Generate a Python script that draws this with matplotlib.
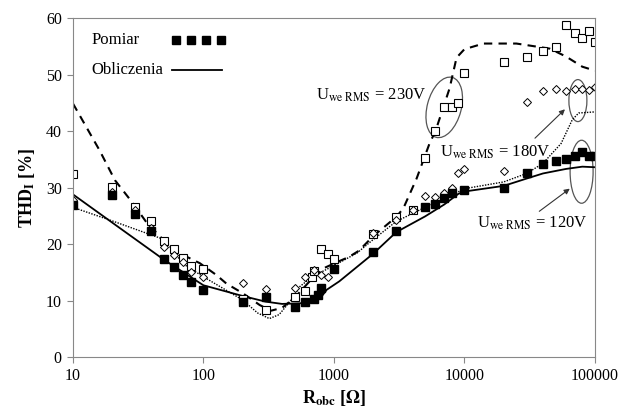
import numpy as np
import matplotlib
matplotlib.use('Agg')
import matplotlib.pyplot as plt
from matplotlib.patches import Ellipse
from matplotlib import transforms

plt.rcParams['font.family'] = ['Liberation Serif', 'DejaVu Serif']
plt.rcParams['mathtext.fontset'] = 'stix'

# measured THD_I [%] vs R_obc [Ohm]
r_120 = [10, 20, 30, 40, 50, 60, 70, 80, 100, 200, 300, 500, 600, 700, 750, 800,
         1000, 2000, 3000, 5000, 6000, 7000, 8000, 10000, 20000, 30000, 40000,
         50000, 60000, 70000, 80000, 90000, 100000]
thd_120 = [26.9, 28.7, 25.3, 22.3, 17.3, 16.0, 14.6, 13.2, 11.8, 9.7, 10.7, 8.9, 9.8,
           10.2, 11.0, 12.2, 15.5, 18.6, 22.3, 26.5, 27.1, 28.1, 29.0, 29.6, 30.0,
           32.6, 34.1, 34.7, 35.0, 35.5, 36.3, 35.5, 35.5]

r_180 = [10, 20, 30, 40, 50, 60, 70, 80, 100, 200, 300, 500, 600, 700, 800, 900, 1000,
         2000, 3000, 4000, 5000, 6000, 7000, 8000, 9000, 10000, 20000, 30000, 40000,
         50000, 60000, 70000, 80000, 90000, 100000]
thd_180 = [27.8, 29.3, 26.0, 22.8, 19.5, 18.1, 16.9, 15.1, 14.1, 13.1, 12.0, 12.2, 14.1,
           15.4, 14.6, 14.2, 15.8, 21.9, 24.2, 26.0, 28.5, 28.3, 29.1, 30.0, 32.6, 33.2,
           33.0, 45.1, 47.1, 47.4, 47.1, 47.4, 47.4, 47.3, 47.8]

r_230 = [10, 20, 30, 40, 50, 60, 70, 80, 100, 200, 300, 500, 600, 680, 700, 800, 900,
         1000, 2000, 3000, 4000, 5000, 6000, 7000, 8000, 9000, 10000, 20000, 30000,
         40000, 50000, 60000, 70000, 80000, 90000, 100000]
thd_230 = [32.4, 30.1, 26.6, 24.1, 20.6, 19.2, 17.5, 16.2, 15.6, 10.3, 8.4, 10.6, 11.6,
           14.1, 15.3, 19.2, 18.3, 17.4, 21.7, 24.7, 26.1, 35.2, 40.1, 44.2, 44.2, 45.0,
           50.2, 52.2, 53.2, 54.2, 54.9, 58.8, 57.4, 56.4, 57.8, 55.7]

# calculated curves
rc_120 = [10, 20, 50, 100, 200, 300, 400, 550, 780, 880, 1100, 2000, 3000, 5000, 7000,
          9000, 10000, 20000, 30000, 40000, 60000, 80000, 100000]
calc_120 = [28.8, 23.8, 17.2, 12.7, 10.8, 9.8, 9.4, 9.5, 10.3, 11.9, 13.4, 18.3, 22.1,
            24.9, 27.0, 28.9, 29.3, 30.3, 31.6, 32.5, 33.3, 33.7, 33.6]

rc_180 = [10, 20, 50, 70, 100, 200, 260, 320, 380, 460, 550, 690, 930, 1500, 2000,
          3000, 5000, 7000, 10000, 20000, 30000, 40000, 55000, 67000, 75000, 100000]
calc_180 = [26.5, 24.1, 20.8, 16.5, 14.2, 10.1, 7.8, 6.8, 7.5, 9.8, 12.5, 14.3, 15.8,
            18.4, 20.8, 24.0, 26.5, 28.0, 29.8, 31.0, 32.5, 34.3, 37.8, 42.0, 43.2, 43.4]

rc_230 = [10, 16, 21, 28, 37, 59, 94, 126, 150, 200, 270, 330, 400, 500, 600, 700, 850,
          1080, 1300, 1550, 2000, 3000, 3400, 4300, 5400, 6000, 7700, 8700, 10000,
          14000, 25000, 45000, 60000, 80000, 100000]
calc_230 = [44.9, 36.6, 31.3, 27.6, 23.7, 18.9, 16.6, 14.5, 13.0, 11.3, 9.2, 8.2, 8.7,
            10.5, 12.5, 14.2, 15.8, 16.9, 17.7, 18.8, 21.4, 24.8, 26.3, 31.6, 37.8, 40.0,
            47.6, 53.0, 54.5, 55.5, 55.5, 54.6, 53.2, 51.4, 50.7]

fig = plt.figure(figsize=(6.23, 4.12), dpi=100)
ax = fig.add_axes([0.117, 0.1335, 0.838, 0.8225])

ax.plot(rc_230, calc_230, color='black', lw=1.5, ls=(0, (4, 3)))
ax.plot(rc_180, calc_180, color='black', lw=1.0, ls=(0, (1, 1)))
ax.plot(rc_120, calc_120, color='black', lw=1.3)

ax.plot(r_230, thd_230, ls='none', marker='s', ms=5.5, mfc='white', mec='black', mew=0.8)
ax.plot(r_180, thd_180, ls='none', marker='D', ms=3.8, mfc='white', mec='black', mew=0.7)
ax.plot(r_120, thd_120, ls='none', marker='s', ms=5.2, mfc='black', mec='black')

ax.set_xscale('log')
ax.set_xlim(10, 100000)
ax.set_ylim(0, 60)
ax.set_xticks([10, 100, 1000, 10000, 100000])
ax.set_xticklabels(['10', '100', '1000', '10000', '100000'])
ax.set_yticks(np.arange(0, 61, 10))
ax.minorticks_off()
ax.tick_params(direction='out', length=4, color='#888888', labelsize=11.5, pad=4)
for s in ax.spines.values():
    s.set_color('#888888')

ax.set_xlabel(r'R$_{\mathbf{obc}}$ [$\mathbf{\Omega}$]', fontsize=13, fontweight='bold', labelpad=3)
ax.set_ylabel(r'THD$_{\mathbf{I}}$ [%]', fontsize=13, fontweight='bold', labelpad=6)

# legend drawn by hand
ax.text(0.036, 0.935, 'Pomiar', transform=ax.transAxes, fontsize=12, va='center')
ax.plot(np.linspace(0.197, 0.283, 4), [0.935] * 4, transform=ax.transAxes,
        ls='none', marker='s', ms=5.2, color='black')
ax.text(0.036, 0.847, 'Obliczenia', transform=ax.transAxes, fontsize=12, va='center')
ax.plot([0.19, 0.286], [0.847, 0.847], transform=ax.transAxes, color='black', lw=1.3)


def ellipse(x, y, w, h, angle=0):
    tr = fig.dpi_scale_trans + transforms.ScaledTranslation(x, y, ax.transData)
    ax.add_patch(Ellipse((0, 0), w, h, angle=angle, transform=tr,
                         fill=False, ec='#555555', lw=0.9))


ellipse(7000, 44.2, 0.34, 0.62, angle=-15)
ellipse(74000, 45.4, 0.18, 0.42)
ellipse(79000, 32.8, 0.23, 0.63)

lbl = r'U$_{\mathrm{we\ RMS}}$ = {}'
ax.text(5100, 46.4, lbl.replace('{}', '230V'), fontsize=12, ha='right', va='center')
ax.text(17100, 36.3, lbl.replace('{}', '180V'), fontsize=12, ha='center', va='center')
ax.text(32900, 23.7, lbl.replace('{}', '120V'), fontsize=12, ha='center', va='center')

arrow = dict(arrowstyle='-|>', color='#333333', lw=0.8, mutation_scale=8)
ax.annotate('', xy=(61000, 44.2), xytext=(33500, 38.4), arrowprops=arrow)
ax.annotate('', xy=(66700, 30.1), xytext=(36000, 25.5), arrowprops=arrow)

fig.savefig('out.png', dpi=100)
